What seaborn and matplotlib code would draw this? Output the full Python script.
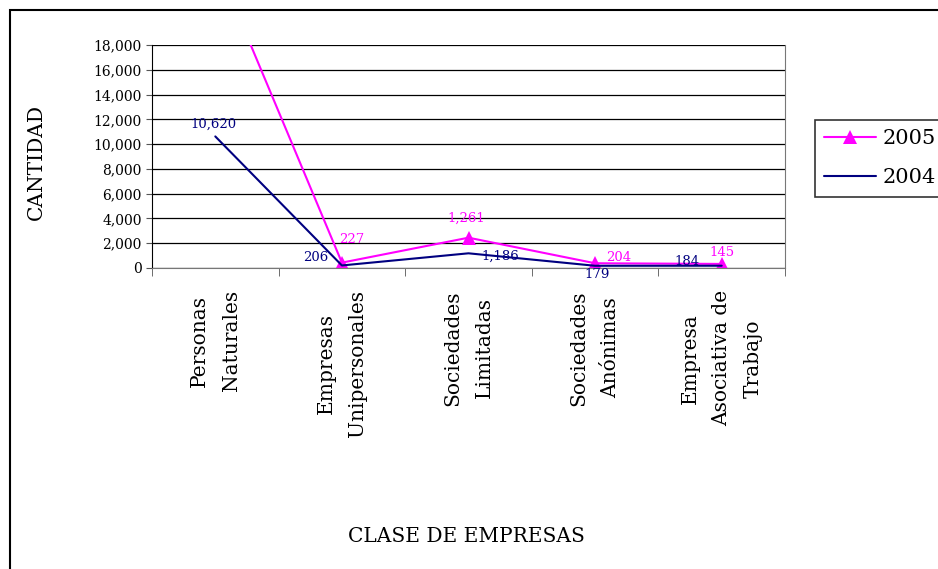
import matplotlib
matplotlib.use("Agg")
from matplotlib import pyplot as plt
from matplotlib.patches import Rectangle
import pandas as pd
import seaborn as sns

# categories and values (stacked line chart: 2005 drawn on top of 2004)
clases = ["Personas\nNaturales", "Empresas\nUnipersonales", "Sociedades\nLimitadas",
          "Sociedades\nAnónimas", "Empresa\nAsociativa de\nTrabajo"]
v2004 = [10620, 206, 1186, 179, 184]
v2005 = [14200, 227, 1261, 204, 145]

# label offsets in pixels from each point
off2004 = [(-2, 12), (-26, 8), (32, -3), (2, -9), (-35, 4)]
off2005 = [(0, 12), (10, 23), (-2, 19), (24, 6), (0, 11)]

top2005 = [a + b for a, b in zip(v2004, v2005)]
df05 = pd.DataFrame({"clase": clases, "cantidad": top2005})
df04 = pd.DataFrame({"clase": clases, "cantidad": v2004})

sns.set_style("white")
plt.rcParams["text.color"] = "black"
plt.rcParams["axes.labelcolor"] = "black"
plt.rcParams["xtick.color"] = "black"
plt.rcParams["ytick.color"] = "black"
serif = ["DejaVu Serif"]

fig = plt.figure(figsize=(9.38, 5.69), dpi=100)
ax = fig.add_axes([152 / 938, 1 - 268 / 569, (785 - 152) / 938, (268 - 45) / 569])

sns.lineplot(data=df05, x="clase", y="cantidad", color="#FF00FF", marker="^",
             markersize=10, markeredgewidth=0, linewidth=1.5, sort=False,
             label="2005", ax=ax)
sns.lineplot(data=df04, x="clase", y="cantidad", color="#000080",
             linewidth=1.5, sort=False, label="2004", ax=ax)

ax.set_ylim(0, 18000)
ax.set_xlim(-0.5, 4.5)
ax.set_yticks(range(0, 18001, 2000))
ax.set_yticklabels([f"{t:,}" for t in range(0, 18001, 2000)], family=serif, fontsize=10)
ax.yaxis.grid(True, color="black", linewidth=0.9)
ax.set_axisbelow(True)

ax.set_xticks(range(5))
ax.set_xticklabels(clases, rotation=90, family=serif, fontsize=14.5, linespacing=1.85,
                   va="top", ha="center", multialignment="center")
ax.tick_params(axis="x", length=0, pad=16)
ax.set_xticks([i - 0.5 for i in range(6)], minor=True)
ax.tick_params(axis="x", which="minor", length=6, direction="out", color="#555555", bottom=True)
ax.tick_params(axis="y", length=4, direction="out", color="#555555", left=True)

ax.spines["left"].set_color("black")
for s in ["bottom", "right"]:
    ax.spines[s].set_color("#777777")
ax.spines["top"].set_visible(False)

ax.set_xlabel("CLASE DE EMPRESAS", family=serif, fontsize=14.5)
ax.xaxis.set_label_coords(0.496, -1.16)
ax.set_ylabel("CANTIDAD", family=serif, fontsize=14.5)
ax.yaxis.set_label_coords(-0.168, 0.475)

for i in range(5):
    ax.annotate(f"{v2004[i]:,}", (i, v2004[i]), xytext=off2004[i], textcoords="offset pixels",
                ha="center", va="center", color="#000080", family=serif, fontsize=9.5)
    ax.annotate(f"{v2005[i]:,}", (i, top2005[i]), xytext=off2005[i], textcoords="offset pixels",
                ha="center", va="center", color="#FF00FF", family=serif, fontsize=9.5,
                annotation_clip=True)

handles, labels = ax.get_legend_handles_labels()
ax.get_legend().remove()
leg = fig.legend(handles, labels, loc="upper left", bbox_to_anchor=(815 / 938, 1 - 120 / 569),
                 bbox_transform=fig.transFigure, frameon=True, fancybox=False,
                 prop={"family": "DejaVu Serif", "size": 15}, handlelength=2.5,
                 labelspacing=0.95, borderpad=0.45, handletextpad=0.3, borderaxespad=0)
leg.get_frame().set_edgecolor("black")
leg.get_frame().set_linewidth(1.2)
for t in leg.get_texts():
    t.set_color("black")

# outer chart border, running off the right and bottom edges
fig.patches.append(Rectangle((10 / 938, -0.2), 2, (569 - 10) / 569 + 0.2,
                             transform=fig.transFigure, fill=False,
                             edgecolor="black", linewidth=1.5))

fig.savefig("out.png", dpi=100)
